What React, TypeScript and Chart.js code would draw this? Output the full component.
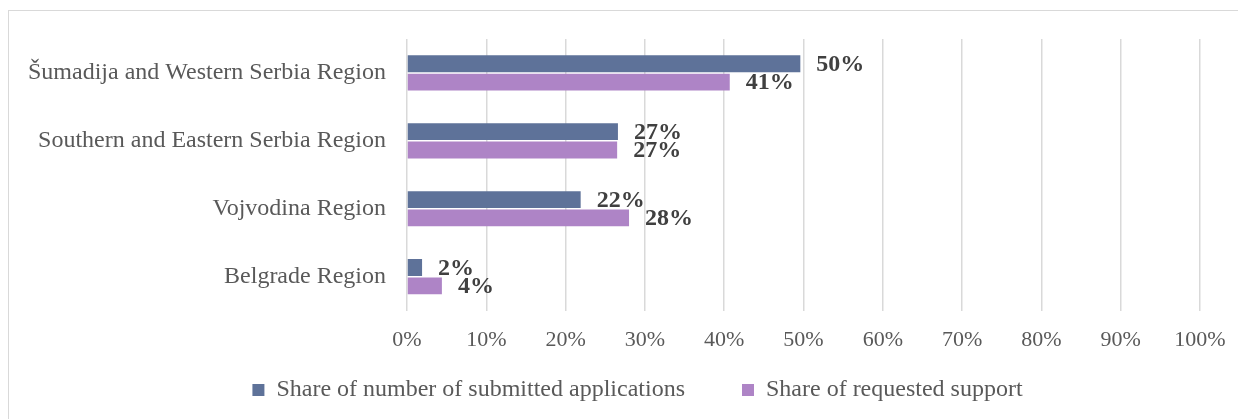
import React, { useEffect, useRef } from "react";
import { Chart, registerables } from "chart.js";

Chart.register(...registerables);

const categories = [
  "Šumadija and Western Serbia Region",
  "Southern and Eastern Serbia Region",
  "Vojvodina Region",
  "Belgrade Region",
];
const submittedApplications = [49.6, 26.6, 21.9, 1.9];
const requestedSupport = [40.7, 26.5, 28.0, 4.4];
const seriesNames = ["Share of number of submitted applications", "Share of requested support"];
const xTicks = [0, 10, 20, 30, 40, 50, 60, 70, 80, 90, 100];

const FONT = '"Liberation Serif", "Times New Roman", serif';

const labelPlugin = {
  id: "barValueLabels",
  afterDatasetsDraw(chart: any) {
    const ctx = chart.ctx;
    ctx.save();
    ctx.font = `bold 24px ${FONT}`;
    ctx.fillStyle = "#404040";
    ctx.textAlign = "left";
    ctx.textBaseline = "middle";
    chart.data.datasets.forEach((ds: any, di: number) => {
      const meta = chart.getDatasetMeta(di);
      meta.data.forEach((el: any, i: number) => {
        const v = ds.data[i];
        ctx.fillText(Math.round(v) + "%", el.x + 16, el.y + 1);
      });
    });
    ctx.restore();
  },
};

// place the legend row like the reference (below the axis, centred on the frame)
const legendPlacer = {
  id: "legendPlacer",
  afterLayout(chart: any) {
    const lg = chart.legend;
    if (!lg) return;
    const dy = 310 - lg.top;
    lg.top += dy;
    lg.bottom += dy;
    const cx = (lg.left + lg.right) / 2;
    const dx = 628.5 - cx;
    lg.left += dx;
    lg.right += dx;
  },
};

export default function App() {
  const ref = useRef<HTMLCanvasElement>(null);
  useEffect(() => {
    if (!ref.current) return;
    const chart = new Chart(ref.current, {
      type: "bar",
      data: {
        labels: categories,
        datasets: [
          {
            label: seriesNames[0],
            data: submittedApplications,
            backgroundColor: "#5E7299",
            borderWidth: 0,
            categoryPercentage: 0.54,
            barPercentage: 0.92,
          },
          {
            label: seriesNames[1],
            data: requestedSupport,
            backgroundColor: "#AE84C6",
            borderWidth: 0,
            categoryPercentage: 0.54,
            barPercentage: 0.92,
          },
        ],
      },
      options: {
        indexAxis: "y",
        animation: false,
        responsive: false,
        maintainAspectRatio: false,
        layout: { padding: { left: 0, right: 49, top: 28, bottom: 0 } },
        scales: {
          x: {
            min: 0,
            max: 100,
            afterBuildTicks(scale: any) {
              scale.ticks = xTicks.map((v) => ({ value: v }));
            },
            grid: { color: "#d9d9d9", lineWidth: 1.5, drawTicks: false },
            border: { display: false },
            ticks: {
              padding: 16,
              color: "#595959",
              font: { family: FONT, size: 22 },
              callback: (v: any) => v + "%",
            },
          },
          y: {
            grid: {
              display: true,
              drawOnChartArea: false,
              drawTicks: true,
              tickLength: 16,
              color: "rgba(0,0,0,0)",
            },
            border: { display: false },
            afterFit(scale: any) {
              scale.width = 398;
            },
            ticks: {
              padding: 5,
              color: "#595959",
              font: { family: FONT, size: 24 },
            },
          },
        },
        plugins: {
          legend: {
            position: "bottom",
            labels: {
              boxWidth: 12,
              boxHeight: 12,
              padding: 57,
              color: "#595959",
              font: { family: FONT, size: 24 },
            },
          },
          tooltip: { enabled: false },
        },
      },
      plugins: [labelPlugin, legendPlacer],
    });
    return () => chart.destroy();
  }, []);

  return (
    <div style={{ width: "100%", height: 411, overflow: "hidden" }}>
      <div
        style={{
          position: "relative",
          marginTop: 2,
          width: 1250,
          height: 470,
          border: "1px solid #d9d9d9",
          boxSizing: "border-box",
          background: "#fff",
        }}
      >
        <canvas
          ref={ref}
          width={1240}
          height={449}
          style={{ position: "absolute", left: 0, top: 0, width: 1240, height: 449 }}
        />
      </div>
    </div>
  );
}
